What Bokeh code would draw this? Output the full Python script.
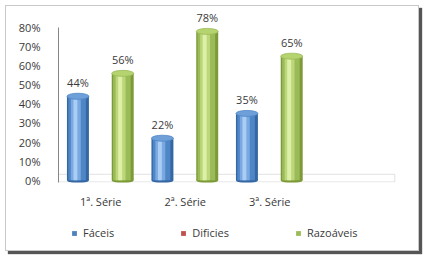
from bokeh.plotting import figure
from bokeh.layouts import column
from bokeh.models import ColumnDataSource, FixedTicker, Legend, LegendItem, BoxAnnotation, Range1d, FactorRange
from bokeh.transform import dodge
from bokeh.embed import file_html
from bokeh.resources import INLINE
from bokeh.core.properties import value

# ---- data ----
categories = ["1ª. Série", "2ª. Série", "3ª. Série"]
faceis = [44, 22, 35]
dificies = [0, 0, 0]
razoaveis = [56, 78, 65]
series_names = ["Fáceis", "Dificies", "Razoáveis"]
y_ticks = [0, 10, 20, 30, 40, 50, 60, 70, 80]
y_tick_labels = ["0%", "10%", "20%", "30%", "40%", "50%", "60%", "70%", "80%"]

FONT = "Open Sans"
TXT = "#3a3a3a"
W = 0.26

factors = categories + [" "]
p = figure(width=412, height=209, x_range=FactorRange(factors=factors),
           y_range=Range1d(-1.2, 90), output_backend="svg", toolbar_location=None,
           min_border_left=52, min_border_right=22, min_border_top=2, min_border_bottom=33)
p.outline_line_color = None
p.xgrid.grid_line_color = None
p.ygrid.grid_line_color = None
p.background_fill_color = "white"
p.border_fill_color = "white"

floor = BoxAnnotation(left=0, right=3.98, bottom=-0.9, top=3.1, fill_color="white", fill_alpha=1,
                      line_color="#a0a0a0", line_width=1, level="underlay")
p.add_layout(floor)

def cylinder(vals, off, cols, show_top=True):
    src = ColumnDataSource(dict(cat=categories, top=vals, lab=[f"{v}%" for v in vals]))
    xs = dodge("cat", off, range=p.x_range)
    p.vbar(x=xs, top="top", bottom=0, width=W, fill_color=cols[0], line_color=None, source=src)
    if show_top:
        p.ellipse(x=xs, y=0, width=W, height=6, height_units="screen",
                  fill_color=cols[0], line_color=None, source=src)
        p.vbar(x=dodge("cat", off - 0.01, range=p.x_range), top="top", bottom=0, width=W * 0.8,
               fill_color=cols[1], line_color=None, source=src)
        p.vbar(x=dodge("cat", off - 0.025, range=p.x_range), top="top", bottom=0, width=W * 0.45,
               fill_color=cols[2], line_color=None, source=src)
        p.vbar(x=dodge("cat", off - 0.03, range=p.x_range), top="top", bottom=0, width=W * 0.18,
               fill_color=cols[3], line_color=None, source=src)
        p.ellipse(x=xs, y="top", width=W, height=6, height_units="screen",
                  fill_color=cols[4], line_color=cols[1], line_width=0.8, source=src)
        p.text(x=xs, y="top", text="lab", source=src, text_align="center", text_baseline="bottom",
               y_offset=-6, text_font=value(FONT), text_font_size="11px", text_color=TXT)
    return src

colors = {"Fáceis": "#4f81bd", "Dificies": "#c0504d", "Razoáveis": "#9bbb59"}
s_f = cylinder(faceis, -0.27, ["#3567a3", "#4f86c6", "#79a9e0", "#a9cdf5", "#6e9fd8"])
s_d = cylinder(dificies, 0.0, ["#c0504d"], show_top=False)
s_r = cylinder(razoaveis, 0.26, ["#7d9a38", "#9bbb59", "#bcd77a", "#def0a8", "#b5d36e"])

# axes
ya = p.yaxis[0]
ya.ticker = FixedTicker(ticks=y_ticks)
ya.major_label_overrides = {t: l for t, l in zip(y_ticks, y_tick_labels)}
ya.bounds = (-1.2, 80)
ya.axis_line_color = "#868686"
ya.major_tick_line_color = None
ya.minor_tick_line_color = None
ya.major_label_standoff = 12
ya.major_label_text_font = FONT
ya.major_label_text_font_size = "11px"
ya.major_label_text_color = TXT

xa = p.xaxis[0]
xa.axis_line_color = None
xa.major_tick_line_color = None
xa.minor_tick_line_color = None
xa.major_label_standoff = 5
xa.major_label_text_font = FONT
xa.major_label_text_font_size = "11px"
xa.major_label_text_color = TXT

# legend strip (series keys drawn off-range so only the legend shows)
pl = figure(width=412, height=35, x_range=p.x_range, y_range=Range1d(1000, 1001),
            output_backend="svg", toolbar_location=None, x_axis_location=None, y_axis_location=None,
            min_border=0)
pl.outline_line_color = None
pl.xgrid.grid_line_color = None
pl.ygrid.grid_line_color = None
pl.background_fill_color = "white"
pl.border_fill_color = "white"
items = []
for name, src in zip(series_names, [s_f, s_d, s_r]):
    r = pl.vbar(x="cat", top="top", bottom=0, width=W, fill_color=colors[name], line_color=None, source=src)
    items.append(LegendItem(label=name, renderers=[r]))

legend = Legend(items=items, orientation="horizontal", location=(13, 10))
legend.glyph_width = 6
legend.glyph_height = 6
legend.label_standoff = 6
legend.spacing = 66
legend.margin = 0
legend.padding = 5
legend.border_line_color = None
legend.background_fill_alpha = 0
legend.label_text_font = FONT
legend.label_text_font_size = "11px"
legend.label_text_color = TXT
pl.add_layout(legend)

layout = column(p, pl, spacing=0)
layout.styles = {"margin-left": "6px", "margin-top": "6px",
                 "box-shadow": "0 0 0 1px #c8c8c8, 3px 3px 1px 1px #555555"}

open("out.html", "w").write(file_html(layout, INLINE))
